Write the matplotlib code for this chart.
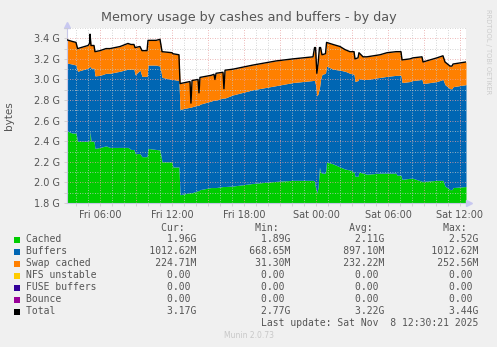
import numpy as np
import matplotlib
matplotlib.use("Agg")
import matplotlib.pyplot as plt
from matplotlib.patches import Rectangle

# hours since Fri 00:00
hours = [3.25, 3.67, 4.00, 4.13, 5.00, 5.13, 5.17, 5.25, 5.50, 5.58,
         6.00, 6.50, 6.83, 7.67, 8.33, 8.58, 8.83, 8.92, 9.33, 9.50,
         9.92, 10.00, 10.67, 11.00, 11.17, 12.00, 12.08, 12.58, 12.67, 13.50,
         13.58, 13.67, 14.17, 14.25, 14.33, 15.25, 15.50, 15.58, 15.67, 16.25,
         16.33, 16.42, 17.08, 18.75, 20.67, 22.08, 23.75, 23.88, 23.96, 24.07,
         24.17, 24.29, 24.38, 24.50, 24.79, 24.88, 25.42, 26.00, 26.42, 26.83,
         27.17, 27.25, 27.50, 27.58, 27.92, 28.25, 29.33, 29.92, 30.67, 30.75,
         31.08, 31.17, 31.83, 32.08, 32.83, 32.92, 34.08, 34.58, 34.75, 35.17,
         35.33, 35.42, 36.50]

# GB
cached = [2.50, 2.48, 2.48, 2.40, 2.40, 2.41, 2.50, 2.40, 2.40, 2.33,
          2.34, 2.355, 2.34, 2.34, 2.34, 2.32, 2.32, 2.28, 2.28, 2.25,
          2.25, 2.33, 2.32, 2.315, 2.20, 2.20, 2.15, 2.15, 1.88, 1.90,
          1.90, 1.90, 1.92, 1.92, 1.93, 1.95, 1.95, 1.95, 1.95, 1.96,
          1.96, 1.96, 1.965, 1.99, 2.01, 2.02, 2.02, 2.01, 1.95, 1.90,
          1.95, 2.15, 2.10, 2.09, 2.09, 2.20, 2.18, 2.15, 2.13, 2.12,
          2.10, 2.06, 2.06, 2.10, 2.09, 2.08, 2.09, 2.09, 2.09, 2.07,
          2.07, 2.03, 2.04, 2.04, 2.01, 2.01, 2.02, 2.02, 1.965, 1.93,
          1.93, 1.95, 1.96]

buffers = [0.66, 0.67, 0.66, 0.68, 0.71, 0.71, 0.63, 0.71, 0.71, 0.705,
           0.70, 0.705, 0.72, 0.74, 0.76, 0.78, 0.78, 0.765, 0.81, 0.78,
           0.78, 0.81, 0.82, 0.815, 0.82, 0.80, 0.85, 0.84, 0.83, 0.83,
           0.83, 0.835, 0.83, 0.83, 0.83, 0.84, 0.85, 0.85, 0.85, 0.86,
           0.86, 0.86, 0.885, 0.91, 0.93, 0.95, 0.97, 0.98, 1.00, 0.94,
           0.91, 0.77, 0.90, 0.96, 0.97, 0.93, 0.92, 0.94, 0.95, 0.94,
           0.95, 0.92, 0.93, 0.91, 0.91, 0.92, 0.93, 0.94, 0.95, 0.97,
           0.97, 0.94, 0.94, 0.95, 0.99, 0.95, 0.96, 0.98, 0.985, 0.98,
           0.98, 0.98, 0.99]

swap = [0.225, 0.22, 0.22, 0.22, 0.22, 0.23, 0.31, 0.22, 0.22, 0.235,
        0.24, 0.24, 0.24, 0.24, 0.25, 0.24, 0.24, 0.265, 0.23, 0.25,
        0.25, 0.24, 0.24, 0.26, 0.25, 0.26, 0.25, 0.25, 0.25, 0.25,
        0.04, 0.255, 0.25, 0.12, 0.26, 0.25, 0.25, 0.20, 0.26, 0.25,
        0.09, 0.27, 0.25, 0.24, 0.24, 0.23, 0.23, 0.32, 0.36, 0.22,
        0.29, 0.39, 0.31, 0.19, 0.19, 0.23, 0.24, 0.23, 0.21, 0.21,
        0.22, 0.22, 0.22, 0.25, 0.22, 0.22, 0.22, 0.23, 0.23, 0.23,
        0.23, 0.22, 0.22, 0.22, 0.22, 0.21, 0.23, 0.23, 0.22, 0.22,
        0.22, 0.22, 0.22]

xtick_pos = [6, 12, 18, 24, 30, 36]
xtick_labels = ["Fri 06:00", "Fri 12:00", "Fri 18:00", "Sat 00:00", "Sat 06:00", "Sat 12:00"]
ytick_pos = [1.8, 2.0, 2.2, 2.4, 2.6, 2.8, 3.0, 3.2, 3.4]
ytick_labels = ["1.8 G", "2.0 G", "2.2 G", "2.4 G", "2.6 G", "2.8 G", "3.0 G", "3.2 G", "3.4 G"]

legend_names = ["Cached", "Buffers", "Swap cached", "NFS unstable", "FUSE buffers", "Bounce", "Total"]
legend_colors = ["#00CC00", "#0066B3", "#FF8000", "#FFCC00", "#330099", "#990099", "#000000"]
cur_vals = ["1.96G", "1012.62M", "224.71M", "0.00 ", "0.00 ", "0.00 ", "3.17G"]
min_vals = ["1.89G", "668.65M", "31.30M", "0.00 ", "0.00 ", "0.00 ", "2.77G"]
avg_vals = ["2.11G", "897.10M", "232.22M", "0.00 ", "0.00 ", "0.00 ", "3.22G"]
max_vals = ["2.52G", "1012.62M", "252.56M", "0.00 ", "0.00 ", "0.00 ", "3.44G"]

t = np.array(hours)
c = np.array(cached)
b = c + np.array(buffers)
tot = b + np.array(swap)

W, H = 497, 347
fig = plt.figure(figsize=(W / 100, H / 100), dpi=100, facecolor="#F0F0F0")
ax = fig.add_axes([67 / W, (H - 203) / H, 399 / W, 175 / H])
ax.set_facecolor("white")

ax.fill_between(t, 0, c, color=legend_colors[0], lw=0, zorder=1)
ax.fill_between(t, c, b, color=legend_colors[1], lw=0, zorder=1)
ax.fill_between(t, b, tot, color=legend_colors[2], lw=0, zorder=1)
ax.plot(t, tot, color="black", lw=1.0, zorder=3)

ax.set_xlim(3.25, 36.5)
ax.set_ylim(1.8, 3.5)

# ticks / grid
maj_x = np.arange(6, 37, 3)
ax.set_xticks(maj_x)
ax.set_xticklabels([xtick_labels[xtick_pos.index(v)] if v in xtick_pos else "" for v in maj_x])
ax.set_xticks(np.arange(4, 37, 1), minor=True)
ax.set_yticks(ytick_pos)
ax.set_yticklabels(ytick_labels)
ax.set_yticks(np.arange(1.9, 3.51, 0.2), minor=True)

ax.set_axisbelow(False)
ax.grid(which="minor", color="#C8C8C8", linestyle=(0, (1, 2)), lw=0.6, zorder=2)
ax.grid(which="major", color="#E8A0A0", linestyle=(0, (1, 2)), lw=0.6, zorder=2)

ax.tick_params(which="both", colors="#CCCCCC", labelcolor="#555555", labelsize=7, length=2, width=0.6)
ax.tick_params(axis="x", pad=3)
ax.tick_params(axis="y", pad=3)
for s in ["top", "right"]:
    ax.spines[s].set_visible(False)
for s in ["left", "bottom"]:
    ax.spines[s].set_color("#C8C8E8")
    ax.spines[s].set_linewidth(0.8)

# axis arrows
ax.plot([3.25], [3.53], marker="^", ms=4, color="#C8C8F0", clip_on=False)
ax.plot([36.75], [1.8], marker=">", ms=4, color="#C8C8F0", clip_on=False)

ax.set_ylabel("bytes", color="#555555", fontsize=7.5, labelpad=14)

fig.text(0.5, 1 - 18 / H, "Memory usage by cashes and buffers - by day",
         ha="center", va="center", fontsize=9.2, color="#555555")
fig.text(488 / W, 1 - 52 / H, "RRDTOOL / TOBI OETIKER", rotation=270,
         ha="center", va="center", fontsize=4.8, color="#CCCCCC")

# legend table
mono = dict(family="DejaVu Sans Mono", fontsize=7.05, color="#555555", va="center", ha="left")
x0 = 26 / W
header = " " * 23 + "Cur:" + "Min:".rjust(16) + "Avg:".rjust(16) + "Max:".rjust(16)
fig.text(x0, 1 - 228.3 / H, header, **mono)
row_y = [239.5, 251.5, 263.5, 275.5, 287.5, 299.5, 311.5]
for i, name in enumerate(legend_names):
    row = name + cur_vals[i].rjust(29 - len(name)) + min_vals[i].rjust(16) \
        + avg_vals[i].rjust(16) + max_vals[i].rjust(16)
    fig.text(x0, 1 - row_y[i] / H, row, **mono)
    fig.add_artist(Rectangle((14 / W, 1 - (row_y[i] + 3) / H), 6 / W, 6 / H,
                             transform=fig.transFigure, color=legend_colors[i], lw=0))
fig.text(x0, 1 - 323.5 / H, " " * 40 + "Last update: Sat Nov  8 12:30:21 2025", **mono)
fig.text(0.5, 1 - 336 / H, "Munin 2.0.73", ha="center", va="center", fontsize=5.5, color="#C8C8C8")

fig.savefig("out.png", dpi=100, facecolor=fig.get_facecolor())
